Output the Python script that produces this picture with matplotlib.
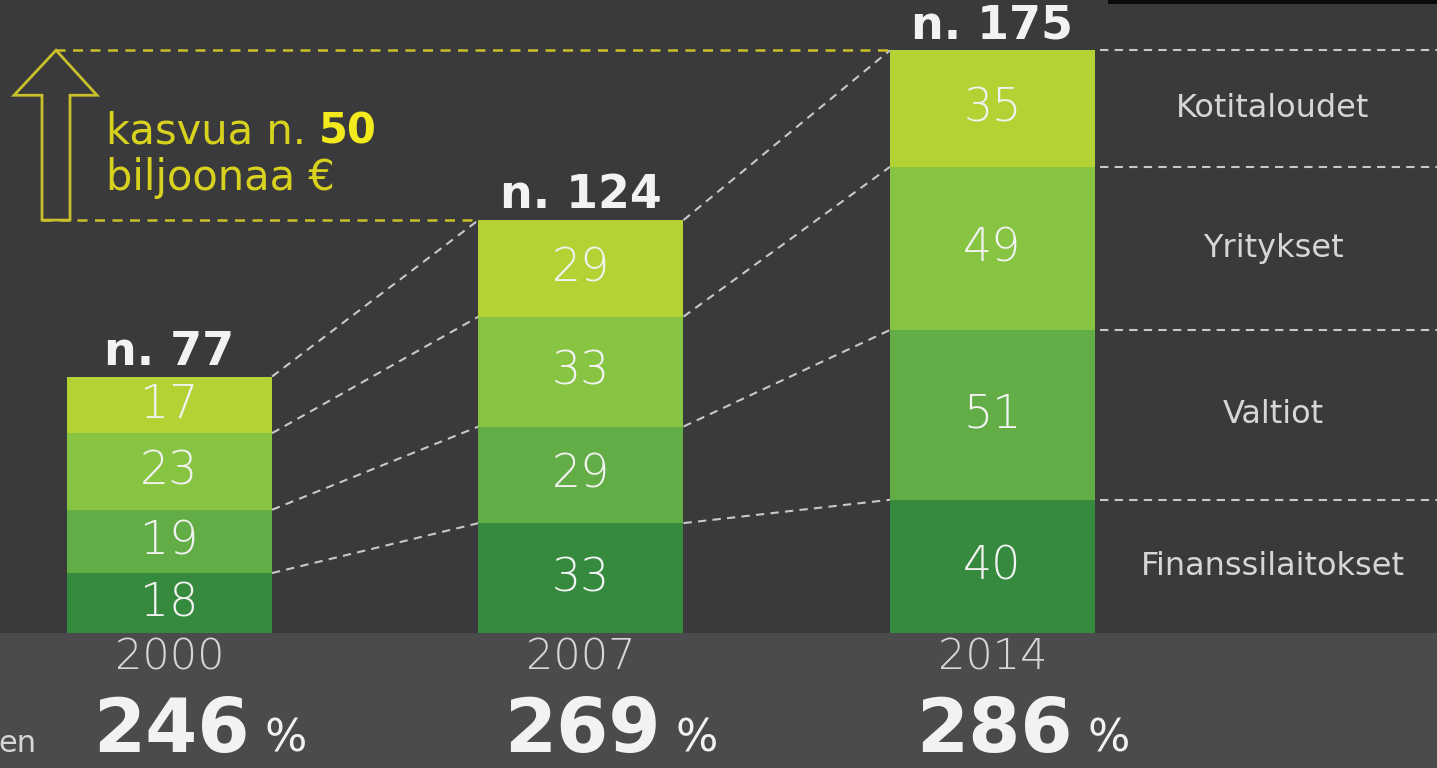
import numpy as np
import matplotlib
matplotlib.use("Agg")
import matplotlib.pyplot as plt
from matplotlib.patches import Rectangle, Polygon

# ---------------- data ----------------
years = ["2000", "2007", "2014"]
categories = ["Finanssilaitokset", "Valtiot", "Yritykset", "Kotitaloudet"]
finanssilaitokset = [18, 33, 40]
valtiot = [19, 29, 51]
yritykset = [23, 33, 49]
kotitaloudet = [17, 29, 35]
totals = [77, 124, 175]
percentages = [246, 269, 286]
growth = 50
growth_text = ["kasvua n. ", "biljoonaa €"]
cut_label = "en"

series = [finanssilaitokset, valtiot, yritykset, kotitaloudet]
colors = ["#358a3e", "#62ad45", "#87c441", "#b4d234"]

# ---------------- style ----------------
BG = "#3a3a3c"
BAND = "#4b4b4d"
WHITE = "#f2f2f2"
LIGHT = "#d6d6d6"
YEL_LINE = "#c9c02a"
YEL_TEXT = "#d8d21e"
YEL_BOLD = "#f2ea1c"
FONT = "DejaVu Sans"

W, H = 1437, 768
fig = plt.figure(figsize=(W / 100, H / 100), dpi=100, facecolor=BG)

# bottom band & top-right black strip
fig.patches.append(Rectangle((0, 0), 1, 135 / H, transform=fig.transFigure,
                             facecolor=BAND, edgecolor="none", zorder=-5))
fig.patches.append(Rectangle((1108 / W, 1 - 4 / H), 1, 4 / H, transform=fig.transFigure,
                             facecolor="#0a0a0a", edgecolor="none", zorder=-5))

ax = fig.add_axes([0, 135 / H, 1, 633 / H])
ax.set_facecolor("none")
spacing = 411.5          # px between bar centres
x0 = 169.5               # px of first bar centre
ax.set_xlim(-x0 / spacing, (W - x0) / spacing)
ax.set_ylim(0, 633 / 3.33)
ax.axis("off")

def px2x(px):
    return (px - x0) / spacing

x = np.arange(len(years))
width = 205 / spacing

# ---------------- stacked bars ----------------
bottom = np.zeros(len(years))
levels = []
mids_last = []
for vals, col in zip(series, colors):
    vals = np.array(vals, dtype=float)
    ax.bar(x, vals, width, bottom=bottom, color=col, linewidth=0, zorder=3)
    for xi, b, v in zip(x, bottom, vals):
        ax.text(xi, b + v / 2, f"{int(v)}", ha="center", va="center",
                color=WHITE, fontsize=33, family=FONT, fontweight="light", zorder=5)
    mids_last.append(bottom[-1] + vals[-1] / 2)
    bottom = bottom + vals
    levels.append(bottom.copy())

# totals
for xi, t in zip(x, totals):
    ax.text(xi, t + 0.6, f"n. {t}", ha="center", va="bottom", color=WHITE,
            fontsize=33, fontweight="bold", family=FONT, zorder=5)

# connecting dashed lines
for lev in levels:
    for i in range(len(years) - 1):
        ax.plot([x[i] + width / 2, x[i + 1] - width / 2], [lev[i], lev[i + 1]],
                ls=(0, (4, 3)), color="#c8c8c8", lw=1.5, zorder=2)
    ax.plot([x[-1] + width / 2 + 0.012, ax.get_xlim()[1]], [lev[-1], lev[-1]],
            ls=(0, (4, 3)), color="#c8c8c8", lw=1.5, zorder=2)

# category labels at right
for cat, m in zip(categories, mids_last):
    ax.text(px2x(1273), m, cat, ha="center", va="center", color=LIGHT,
            fontsize=23, family=FONT, zorder=5)

# ---------------- growth annotation ----------------
top, low = totals[-1], totals[-2]
ax.plot([px2x(55), x[-1] - width / 2], [top, top], ls=(0, (4, 3)),
        color=YEL_LINE, lw=1.8, zorder=2)
ax.plot([px2x(42), x[1] - width / 2], [low, low], ls=(0, (4, 3)),
        color=YEL_LINE, lw=1.8, zorder=2)
head = top - 45 / 3.33
arrow = Polygon([(px2x(42), low), (px2x(42), head), (px2x(14), head),
                 (px2x(56), top), (px2x(97), head), (px2x(70), head),
                 (px2x(70), low)], closed=True, fill=False,
                edgecolor=YEL_LINE, lw=2, zorder=4)
ax.add_patch(arrow)
t1 = ax.text(px2x(106), (633 - 144) / 3.33, growth_text[0], ha="left",
             va="baseline", color=YEL_TEXT, fontsize=30, family=FONT)
ax.annotate(f"{growth}", xy=(1, 0), xycoords=t1, ha="left", va="bottom",
            color=YEL_BOLD, fontsize=30, fontweight="bold", family=FONT)
ax.text(px2x(106), (633 - 190) / 3.33, growth_text[1], ha="left",
        va="baseline", color=YEL_TEXT, fontsize=30, family=FONT)

# ---------------- bottom band ----------------
tr = ax.get_xaxis_transform()
for xi, yr, p in zip(x, years, percentages):
    ax.text(xi, (633 - 670) / 633, yr, ha="center", va="baseline",
            color=LIGHT, fontsize=31, family=FONT, fontweight="light",
            transform=tr, clip_on=False)
    ax.text(xi + 80 / spacing, (633 - 752) / 633, f"{p}", ha="right",
            va="baseline", color=WHITE, fontsize=54, fontweight="bold",
            family=FONT, transform=tr, clip_on=False)
    ax.text(xi + 95 / spacing, (633 - 752) / 633, "%", ha="left",
            va="baseline", color=WHITE, fontsize=32, family=FONT,
            transform=tr, clip_on=False)
ax.text(px2x(-2), (633 - 752) / 633, cut_label, ha="left", va="baseline",
        color=LIGHT, fontsize=22, family=FONT, transform=tr, clip_on=False)

fig.savefig("out.png", dpi=100, facecolor=BG)
